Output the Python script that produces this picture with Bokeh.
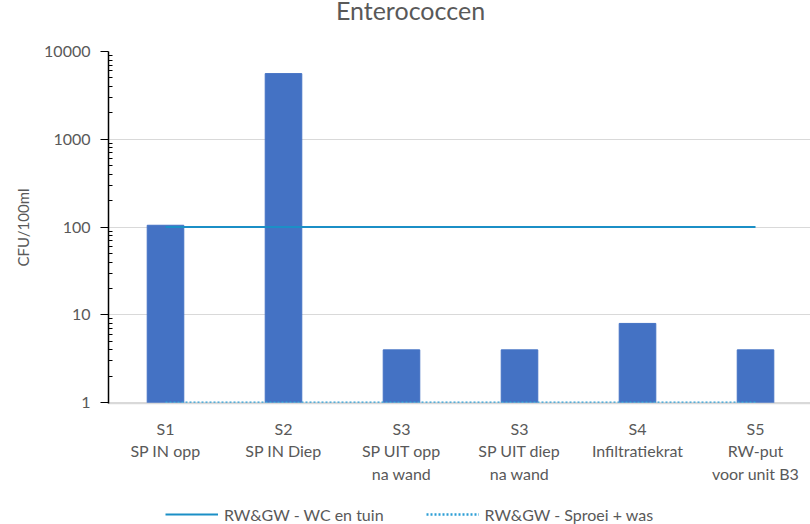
from bokeh.plotting import figure
from bokeh.layouts import column
from bokeh.models import (ColumnDataSource, FixedTicker, NumeralTickFormatter,
                          Legend, LegendItem, Range1d, Label)
from bokeh.embed import file_html
from bokeh.resources import INLINE

# ---- data ----
title_text = "Enterococcen"
y_label = "CFU/100ml"
categories = ["S1\nSP IN opp", "S2\nSP IN Diep", "S3\nSP UIT opp\nna wand",
              "S3\nSP UIT diep\nna wand", "S4\nInfiltratiekrat", "S5\nRW-put\nvoor unit B3"]
values = [105, 5600, 4, 4, 8, 4]
wc_tuin = [100, 100, 100, 100, 100, 100]
sproei_was = [1, 1, 1, 1, 1, 1]
series_names = ["RW&GW - WC en tuin", "RW&GW - Sproei + was"]
y_ticks = [1, 10, 100, 1000, 10000]

xs = list(range(len(categories)))
src = ColumnDataSource(dict(x=xs, v=values, wc=wc_tuin, sp=sproei_was))

FONT = "Lato"
GREY = "#595959"
WC_COLOR = "#1b8fc6"
SP_COLOR = "#2e9fd6"


def strip(height):
    f = figure(width=810, height=height, output_backend="svg", toolbar_location=None,
               x_axis_location=None, y_axis_location=None,
               x_range=Range1d(108, 810), y_range=Range1d(0, height), min_border=0)
    f.outline_line_color = None
    f.xgrid.grid_line_color = None
    f.ygrid.grid_line_color = None
    return f


# ---- title strip (title sits high, as in the reference) ----
ts = strip(30)
ts.add_layout(Label(x=410, y=21, text=title_text, text_align="center",
                    text_baseline="alphabetic", text_font=FONT,
                    text_font_size="25px", text_color=GREY))

# ---- main chart ----
p = figure(width=810, height=464, output_backend="svg", toolbar_location=None,
           y_axis_type="log",
           x_range=Range1d(-0.483, 5.466), y_range=Range1d(0.98, 10000),
           min_border_left=108, min_border_right=0, min_border_top=21,
           min_border_bottom=91)
p.outline_line_color = None
p.background_fill_color = "white"

p.vbar(x="x", top="v", bottom=0.98, width=0.31, source=src,
       fill_color="#4472c4", line_color="#4472c4")
p.line(x="x", y="wc", source=src, line_color=WC_COLOR, line_width=2)
p.line(x="x", y="sp", source=src, line_color=SP_COLOR, line_width=2.5,
       line_dash="2 2")

# y axis
ya = p.yaxis[0]
ya.ticker = FixedTicker(ticks=y_ticks,
                        minor_ticks=[m * d for d in [1, 10, 100, 1000] for m in range(2, 10)])
ya.formatter = NumeralTickFormatter(format="0")
ya.axis_line_color = "black"
ya.axis_line_width = 1.5
ya.major_tick_line_color = "black"
ya.major_tick_out = 8
ya.major_tick_in = 0
ya.minor_tick_line_color = "black"
ya.minor_tick_in = 4
ya.minor_tick_out = 0
ya.major_label_text_font = FONT
ya.major_label_text_font_size = "16px"
ya.major_label_text_color = GREY
ya.major_label_standoff = 10
ya.axis_label = y_label
ya.axis_label_text_font = FONT
ya.axis_label_text_font_size = "15px"
ya.axis_label_text_font_style = "normal"
ya.axis_label_text_color = GREY
ya.axis_label_standoff = 9

# x axis
xa = p.xaxis[0]
xa.ticker = FixedTicker(ticks=xs)
xa.major_label_overrides = {i: c for i, c in zip(xs, categories)}
xa.axis_line_color = "#d9d9d9"
xa.axis_line_width = 1.5
xa.major_tick_line_color = None
xa.minor_tick_line_color = None
xa.major_tick_out = 0
xa.major_label_text_font = FONT
xa.major_label_text_font_size = "16px"
xa.major_label_text_color = GREY
xa.major_label_standoff = 15
xa.major_label_text_line_height = 1.2

p.xgrid.grid_line_color = None
p.ygrid.grid_line_color = "#d9d9d9"
p.ygrid.grid_line_width = 1.2
p.ygrid.ticker = FixedTicker(ticks=y_ticks)

# ---- legend strip below the chart ----
lg = strip(30)
r_wc = lg.line(x="x", y="wc", source=src, line_color=WC_COLOR, line_width=2)
r_sp = lg.line(x="x", y="sp", source=src, line_color=SP_COLOR, line_width=2.5,
               line_dash="2 2")

legend = Legend(items=[LegendItem(label=series_names[0], renderers=[r_wc]),
                       LegendItem(label=series_names[1], renderers=[r_sp])],
                orientation="horizontal", location=(57, 0))
legend.label_text_font = FONT
legend.label_text_font_size = "16px"
legend.label_text_color = GREY
legend.glyph_width = 53
legend.glyph_height = 20
legend.label_height = 20
legend.label_standoff = 6
legend.spacing = 42
legend.padding = 0
legend.margin = 0
legend.border_line_color = None
legend.background_fill_alpha = 0
lg.add_layout(legend, "center")

open("out.html", "w").write(file_html(column(ts, p, lg, spacing=0), INLINE))
